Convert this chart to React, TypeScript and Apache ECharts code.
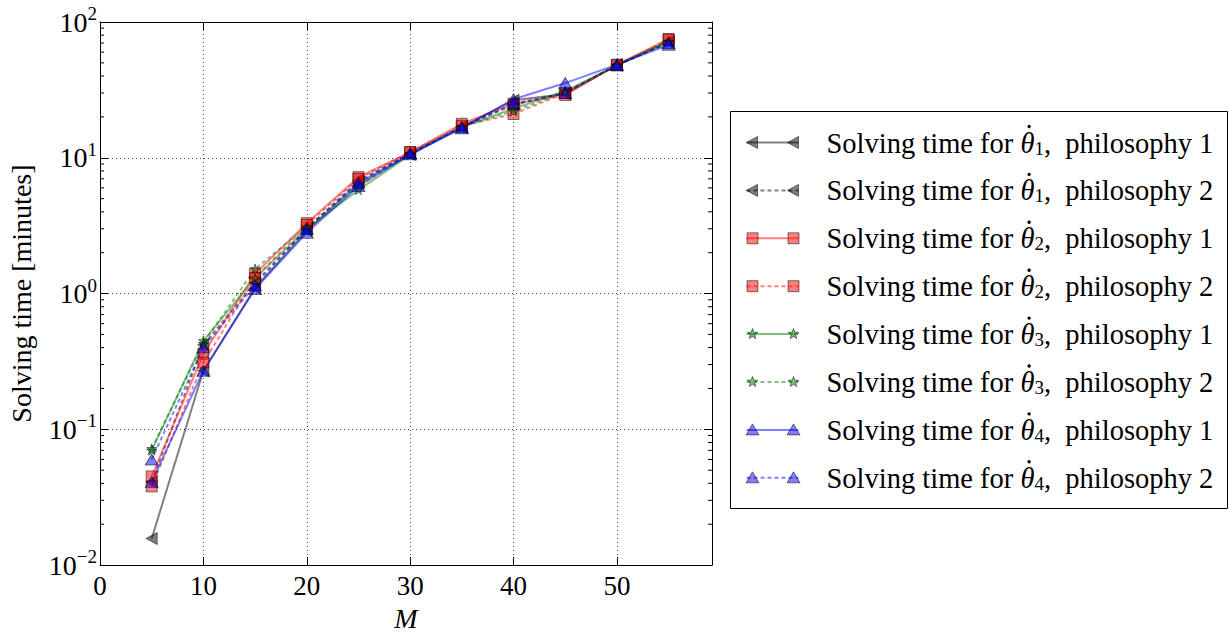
import React, { useEffect, useRef } from "react";
import * as echarts from "echarts";

// Problem size M and measured solving times (minutes)
const M = [5, 10, 15, 20, 25, 30, 35, 40, 45, 50, 55];
const THETA1_P1 = [0.0157, 0.27, 1.1, 2.9, 6.5, 10.6, 16.8, 26.5, 29.5, 48, 72];
const THETA1_P2 = [0.041, 0.42, 1.2, 3.0, 6.8, 10.8, 17.0, 24.5, 30.0, 48.5, 71];
const THETA2_P1 = [0.045, 0.36, 1.4, 3.3, 7.2, 11.0, 17.8, 25.0, 29.0, 48.5, 75];
const THETA2_P2 = [0.038, 0.31, 1.3, 3.2, 7.0, 11.0, 17.2, 21.0, 30.0, 48.0, 74];
const THETA3_P1 = [0.07, 0.45, 1.3, 3.0, 5.8, 10.5, 16.8, 23.0, 31.0, 48.0, 72];
const THETA3_P2 = [0.072, 0.43, 1.52, 3.1, 6.2, 10.7, 17.0, 22.0, 30.5, 48.0, 71];
const THETA4_P1 = [0.041, 0.27, 1.08, 2.8, 6.2, 10.6, 16.5, 27.0, 35.5, 48.5, 68];
const THETA4_P2 = [0.06, 0.4, 1.15, 3.0, 6.6, 10.8, 16.8, 25.0, 30.0, 48.0, 70];

// Axis extents
const X_MIN = 0;
const X_MAX = 59.2;
const X_INTERVAL = 10;
const Y_MIN = 0.01;
const Y_MAX = 100;
const DECADES = [0.01, 0.1, 1, 10];
const MINOR_MULT = [2, 3, 4, 5, 6, 7, 8, 9];

const FONT = "'Liberation Serif', 'DejaVu Serif', serif";
const LEGEND_SIZE = 28.5;
const PREFIX = "Solving time for ";

const GREY = "rgba(0,0,0,0.5)";
const RED = "rgba(255,0,0,0.5)";
const GREEN = "rgba(0,128,0,0.5)";
const BLUE = "rgba(0,0,255,0.5)";
const EDGE = "rgba(0,0,0,0.5)";

const LEFT_TRI = "path://M0,5L10,0L10,10Z";
const STAR =
  "path://M50,0L61.2,34.5L97.6,34.5L68.2,55.9L79.4,90.5L50,69.1L20.6,90.5L31.8,55.9L2.4,34.5L38.8,34.5Z";

type Marker = "left" | "square" | "star" | "up";

const SERIES: {
  idx: string;
  phil: string;
  data: number[];
  color: string;
  dashed: boolean;
  marker: Marker;
}[] = [
  { idx: "1", phil: "1", data: THETA1_P1, color: GREY, dashed: false, marker: "left" },
  { idx: "1", phil: "2", data: THETA1_P2, color: GREY, dashed: true, marker: "left" },
  { idx: "2", phil: "1", data: THETA2_P1, color: RED, dashed: false, marker: "square" },
  { idx: "2", phil: "2", data: THETA2_P2, color: RED, dashed: true, marker: "square" },
  { idx: "3", phil: "1", data: THETA3_P1, color: GREEN, dashed: false, marker: "star" },
  { idx: "3", phil: "2", data: THETA3_P2, color: GREEN, dashed: true, marker: "star" },
  { idx: "4", phil: "1", data: THETA4_P1, color: BLUE, dashed: false, marker: "up" },
  { idx: "4", phil: "2", data: THETA4_P2, color: BLUE, dashed: true, marker: "up" },
];

const SYMBOL: Record<Marker, { symbol: string; size: number | number[] }> = {
  left: { symbol: LEFT_TRI, size: [11, 12] },
  square: { symbol: "rect", size: 11 },
  star: { symbol: STAR, size: 10 },
  up: { symbol: "triangle", size: [13, 11] },
};

function starPoints(cx: number, cy: number, ro: number, ri: number) {
  const pts: number[][] = [];
  for (let k = 0; k < 10; k++) {
    const r = k % 2 === 0 ? ro : ri;
    const a = -Math.PI / 2 + (k * Math.PI) / 5;
    pts.push([cx + r * Math.cos(a), cy + r * Math.sin(a)]);
  }
  return pts;
}

function legendMarker(m: Marker, cx: number, cy: number, color: string) {
  const style = { fill: color, stroke: EDGE, lineWidth: 1 };
  if (m === "square") {
    return { type: "rect", shape: { x: cx - 5.5, y: cy - 5.5, width: 11, height: 11 }, style };
  }
  if (m === "left") {
    return { type: "polygon", shape: { points: [[cx - 6, cy], [cx + 5, cy - 6], [cx + 5, cy + 6]] }, style };
  }
  if (m === "up") {
    return { type: "polygon", shape: { points: [[cx, cy - 6], [cx + 6.5, cy + 5], [cx - 6.5, cy + 5]] }, style };
  }
  return { type: "polygon", shape: { points: starPoints(cx, cy, 5.5, 2.3) }, style };
}

function measure(text: string, font: string) {
  const ctx = document.createElement("canvas").getContext("2d");
  if (!ctx) return text.length * 12;
  ctx.font = font;
  return ctx.measureText(text).width;
}

export default function App() {
  const ref = useRef<HTMLDivElement>(null);

  useEffect(() => {
    if (!ref.current) return;
    const chart = echarts.init(ref.current, undefined, { renderer: "svg" });

    const minorValues: number[][] = [];
    DECADES.forEach((d) => MINOR_MULT.forEach((m) => minorValues.push([X_MIN, d * m])));

    const lineSeries = SERIES.map((s) => ({
      name: `θ${s.idx} philosophy ${s.phil}`,
      type: "line",
      xAxisIndex: 0,
      yAxisIndex: 0,
      data: M.map((x, i) => [x, s.data[i]]),
      symbol: SYMBOL[s.marker].symbol,
      symbolSize: SYMBOL[s.marker].size,
      symbolKeepAspect: true,
      showAllSymbol: true,
      lineStyle: { color: s.color, width: 2, type: s.dashed ? [4, 3] : "solid" },
      itemStyle: { color: s.color, borderColor: EDGE, borderWidth: 1 },
      emphasis: { disabled: true },
      z: 3,
    }));

    const minorTicks = {
      type: "custom",
      xAxisIndex: 0,
      yAxisIndex: 0,
      silent: true,
      clip: false,
      z: 6,
      data: minorValues,
      renderItem: (_p: any, api: any) => {
        const v = api.value(1);
        const l = api.coord([X_MIN, v]);
        const r = api.coord([X_MAX, v]);
        return {
          type: "group",
          children: [
            { type: "line", shape: { x1: l[0], y1: l[1], x2: l[0] + 4, y2: l[1] }, style: { stroke: "#000", lineWidth: 1 } },
            { type: "line", shape: { x1: r[0] - 4, y1: r[1], x2: r[0], y2: r[1] }, style: { stroke: "#000", lineWidth: 1 } },
          ],
        };
      },
    };

    // Horizontal position of the dot accent over theta in the legend labels
    const prefixW = measure(PREFIX, `${LEGEND_SIZE}px 'Liberation Serif'`);
    const thetaW = measure("θ", `italic ${LEGEND_SIZE}px 'Liberation Serif'`);
    const TEXT_X = 96;
    const dotX = TEXT_X + prefixW + thetaW * 0.62;

    const ROW0 = 31;
    const ROW_STEP = 47.9;
    const legendChildren: any[] = [
      { type: "rect", shape: { x: 0, y: 0, width: 497, height: 397 }, style: { fill: "#fff", stroke: "#000", lineWidth: 1 } },
    ];
    SERIES.forEach((s, i) => {
      const cy = ROW0 + i * ROW_STEP;
      legendChildren.push({
        type: "line",
        shape: { x1: 16, y1: cy, x2: 68, y2: cy },
        style: { stroke: s.color, lineWidth: 2, lineDash: s.dashed ? [4, 3] : null },
      });
      legendChildren.push(legendMarker(s.marker, 22, cy, s.color));
      legendChildren.push(legendMarker(s.marker, 63, cy, s.color));
      legendChildren.push({
        type: "text",
        x: TEXT_X,
        y: cy - 4,
        style: {
          text: `{n|${PREFIX}}{t|θ}{s|${s.idx}}{n|,  philosophy ${s.phil}}`,
          verticalAlign: "middle",
          align: "left",
          fill: "#000",
          rich: {
            n: { fontFamily: FONT, fontSize: LEGEND_SIZE, lineHeight: 38, verticalAlign: "bottom", fill: "#000" },
            t: { fontFamily: FONT, fontSize: LEGEND_SIZE, fontStyle: "italic", lineHeight: 38, verticalAlign: "bottom", fill: "#000" },
            s: { fontFamily: FONT, fontSize: 19, lineHeight: 19, verticalAlign: "bottom", fill: "#000" },
          },
        },
      });
      legendChildren.push({
        type: "circle",
        shape: { cx: dotX, cy: cy - 16, r: 1.7 },
        style: { fill: "#000" },
      });
    });

    const yLabel = {
      formatter: (v: number) => {
        const e = Math.round(Math.log10(v));
        return `{b|10}{s|${e < 0 ? "\u2212" + -e : e}}`;
      },
      margin: 3,
      rich: {
        b: { fontFamily: FONT, fontSize: 28, lineHeight: 28, verticalAlign: "bottom", color: "#000" },
        s: { fontFamily: FONT, fontSize: 19, lineHeight: 19, padding: [0, 0, 13, 0], verticalAlign: "bottom", color: "#000" },
      },
    };

    chart.setOption({
      animation: false,
      backgroundColor: "#fff",
      grid: { left: 100, top: 22, width: 612, height: 553, containLabel: false },
      xAxis: [
        {
          type: "value",
          position: "bottom",
          min: X_MIN,
          max: X_MAX,
          interval: X_INTERVAL,
          name: "M",
          nameLocation: "middle",
          nameGap: 37,
          nameTextStyle: { fontFamily: FONT, fontSize: 28, fontStyle: "italic", color: "#000" },
          axisLine: { onZero: false, lineStyle: { color: "#000", width: 1 } },
          axisTick: { inside: true, length: 8, lineStyle: { color: "#000" } },
          axisLabel: { fontFamily: FONT, fontSize: 27, color: "#000", margin: 7, showMaxLabel: false },
          splitLine: { show: true, lineStyle: { color: "#444", type: [1, 3], width: 1 } },
        },
        {
          type: "value",
          position: "top",
          min: X_MIN,
          max: X_MAX,
          interval: X_INTERVAL,
          axisLine: { onZero: false, lineStyle: { color: "#000", width: 1 } },
          axisTick: { inside: true, length: 8, lineStyle: { color: "#000" } },
          axisLabel: { show: false },
          splitLine: { show: false },
        },
      ],
      yAxis: [
        {
          type: "log",
          logBase: 10,
          min: Y_MIN,
          max: Y_MAX,
          splitNumber: 4,
          position: "left",
          name: "Solving time [minutes]",
          nameLocation: "middle",
          nameGap: 65,
          nameRotate: 90,
          nameTextStyle: { fontFamily: FONT, fontSize: 28, color: "#000" },
          axisLine: { onZero: false, lineStyle: { color: "#000", width: 1 } },
          axisTick: { inside: true, length: 8, lineStyle: { color: "#000" } },
          axisLabel: yLabel,
          splitLine: { show: true, lineStyle: { color: "#444", type: [1, 3], width: 1 } },
        },
        {
          type: "log",
          logBase: 10,
          min: Y_MIN,
          max: Y_MAX,
          splitNumber: 4,
          position: "right",
          axisLine: { onZero: false, lineStyle: { color: "#000", width: 1 } },
          axisTick: { inside: true, length: 8, lineStyle: { color: "#000" } },
          axisLabel: { show: false },
          splitLine: { show: false },
        },
      ],
      series: [...lineSeries, minorTicks],
      graphic: [{ type: "group", left: 730, top: 111, children: legendChildren }],
    });

    return () => chart.dispose();
  }, []);

  return <div ref={ref} style={{ width: 1230, height: 637, position: "absolute", left: 0, top: 0 }} />;
}
